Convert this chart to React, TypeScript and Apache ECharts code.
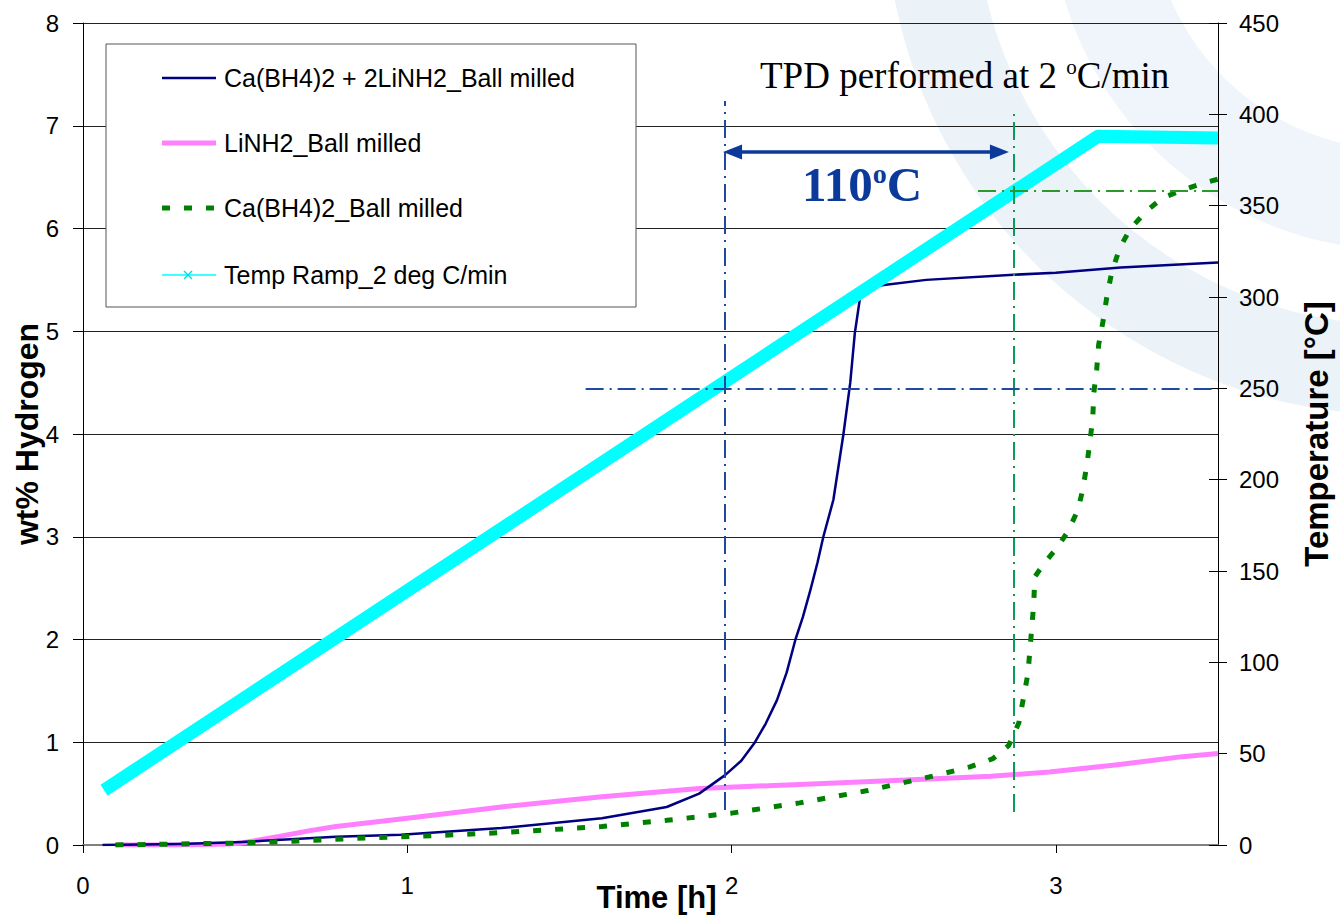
import React, { useEffect, useRef } from "react";
import * as echarts from "echarts";

// ---- Data ----
const xTicks = [0, 1, 2, 3];
const leftTicks = [0, 1, 2, 3, 4, 5, 6, 7, 8];
const rightTicks = [0, 50, 100, 150, 200, 250, 300, 350, 400, 450];

// Ca(BH4)2 + 2LiNH2_Ball milled (wt%)
const blueTime = [0.06, 0.3, 0.49, 0.78, 0.98, 1.29, 1.6, 1.8, 1.9, 1.98, 2.03, 2.07, 2.105, 2.14, 2.17, 2.197, 2.22, 2.243, 2.265, 2.283, 2.314, 2.345, 2.366, 2.38, 2.394, 2.4, 2.47, 2.6, 2.87, 3.0, 3.2, 3.5];
const blueWt = [0, 0.01, 0.03, 0.08, 0.1, 0.165, 0.26, 0.37, 0.5, 0.68, 0.82, 0.99, 1.18, 1.41, 1.68, 2.0, 2.22, 2.48, 2.75, 3.0, 3.36, 4.0, 4.5, 4.98, 5.28, 5.42, 5.45, 5.5, 5.55, 5.57, 5.62, 5.67];

// LiNH2_Ball milled (wt%)
const pinkTime = [0.1, 0.3, 0.45, 0.49, 0.6, 0.7, 0.78, 1.0, 1.29, 1.6, 1.9, 2.21, 2.52, 2.8, 2.98, 3.19, 3.39, 3.5];
const pinkWt = [0, 0, 0.01, 0.02, 0.08, 0.14, 0.18, 0.26, 0.37, 0.47, 0.55, 0.59, 0.63, 0.67, 0.71, 0.78, 0.86, 0.89];

// Ca(BH4)2_Ball milled (wt%)
const greenTime = [0.1, 0.5, 0.67, 0.88, 1.08, 1.29, 1.6, 1.8, 2.0, 2.21, 2.42, 2.62, 2.735, 2.806, 2.855, 2.886, 2.9, 2.914, 2.92, 2.926, 2.932, 2.935, 2.966, 3.003, 3.037, 3.068, 3.083, 3.095, 3.105, 3.114, 3.117, 3.126, 3.132, 3.145, 3.157, 3.172, 3.197, 3.23, 3.283, 3.33, 3.388, 3.452, 3.5];
const greenWt = [0, 0.02, 0.04, 0.07, 0.09, 0.12, 0.18, 0.24, 0.31, 0.41, 0.53, 0.67, 0.76, 0.84, 0.97, 1.19, 1.43, 1.67, 1.9, 2.12, 2.36, 2.61, 2.75, 2.89, 3.05, 3.26, 3.46, 3.69, 3.92, 4.17, 4.4, 4.63, 4.87, 5.09, 5.33, 5.57, 5.81, 6.0, 6.18, 6.3, 6.37, 6.44, 6.48];

// Temp Ramp_2 deg C/min (°C)
const tempTime = [0.065, 3.13, 3.5];
const tempC = [30, 388, 387];

// Annotation lines
const blueMarkTime = 1.98;
const greenMarkTime = 2.87;
const blueMarkTemp = 250;
const greenMarkTemp = 358;

const legendNames = [
  "Ca(BH4)2 + 2LiNH2_Ball milled",
  "LiNH2_Ball milled",
  "Ca(BH4)2_Ball milled",
  "Temp Ramp_2 deg C/min",
];

const pair = (xs: number[], ys: number[]) => xs.map((x, i) => [x, ys[i]]);

export default function App() {
  const ref = useRef<HTMLDivElement>(null);

  useEffect(() => {
    document.body.style.margin = "0";
    const chart = echarts.init(ref.current!, null, { renderer: "svg" });
    const sans = "'Liberation Sans', Arial, sans-serif";
    const serif = "'Liberation Serif', 'Times New Roman', serif";

    const dashDot = [18, 6, 2, 6];
    const blueDD = "#1f4aa0";
    const greenV = "#0a9a5a";
    const greenH = "#2a9a2a";
    const arrowBlue = "#0b3a9a";

    const legendRowsY = [78, 143, 208, 275];
    const lx0 = 162;
    const lx1 = 216;
    const legendGraphics: any[] = [
      {
        type: "rect",
        z: 10,
        shape: { x: 106, y: 44, width: 530, height: 263 },
        style: { fill: "#fff", stroke: "#555", lineWidth: 1 },
      },
      {
        type: "line",
        z: 11,
        shape: { x1: lx0, y1: legendRowsY[0], x2: lx1, y2: legendRowsY[0] },
        style: { stroke: "#000080", lineWidth: 2.5 },
      },
      {
        type: "line",
        z: 11,
        shape: { x1: lx0, y1: legendRowsY[1], x2: lx1, y2: legendRowsY[1] },
        style: { stroke: "#FF80FF", lineWidth: 5 },
      },
      {
        type: "line",
        z: 11,
        shape: { x1: lx0, y1: legendRowsY[2], x2: lx1 + 2, y2: legendRowsY[2] },
        style: { stroke: "#008000", lineWidth: 5, lineDash: [8, 14] },
      },
      {
        type: "line",
        z: 11,
        shape: { x1: lx0, y1: legendRowsY[3], x2: lx1, y2: legendRowsY[3] },
        style: { stroke: "#00FFFF", lineWidth: 1.5 },
      },
      {
        type: "line",
        z: 11,
        shape: { x1: 184, y1: legendRowsY[3] - 4, x2: 192, y2: legendRowsY[3] + 4 },
        style: { stroke: "#00E0E0", lineWidth: 1.5 },
      },
      {
        type: "line",
        z: 11,
        shape: { x1: 184, y1: legendRowsY[3] + 4, x2: 192, y2: legendRowsY[3] - 4 },
        style: { stroke: "#00E0E0", lineWidth: 1.5 },
      },
      ...legendNames.map((n, i) => ({
        type: "text",
        z: 11,
        x: 224,
        y: legendRowsY[i],
        style: {
          text: n,
          fill: "#000",
          font: `25px ${sans}`,
          verticalAlign: "middle",
          align: "left",
        },
      })),
    ];

    const option: any = {
      animation: false,
      backgroundColor: "#fff",
      grid: {
        left: 83,
        right: 122,
        top: 23,
        bottom: 71,
        containLabel: false,
        outerBoundsMode: "none",
      },
      xAxis: {
        type: "value",
        min: 0,
        max: 3.5,
        interval: 1,
        axisLine: { show: true, onZero: false, lineStyle: { color: "#808080", width: 2 } },
        axisTick: { show: true, length: 8, lineStyle: { color: "#000" } },
        axisLabel: {
          margin: 28,
          fontSize: 24,
          color: "#000",
          fontFamily: sans,
          showMaxLabel: false,
          formatter: (v: number) => (xTicks.includes(v) ? String(v) : ""),
        },
        splitLine: { show: false },
        name: "Time [h]",
        nameLocation: "middle",
        nameGap: 37,
        nameMoveOverlap: false,
        nameTextStyle: { fontSize: 31, fontWeight: "bold", color: "#000", fontFamily: sans, padding: [0, 0, 0, 12] },
      },
      yAxis: [
        {
          type: "value",
          position: "left",
          min: 0,
          max: 8,
          interval: 1,
          axisLine: { show: true, lineStyle: { color: "#000", width: 1 } },
          axisTick: { show: true, inside: false, length: 10, lineStyle: { color: "#000" } },
          axisLabel: {
            margin: 24,
            fontSize: 24,
            color: "#000",
            fontFamily: sans,
            formatter: (v: number) => (leftTicks.includes(v) ? String(v) : ""),
          },
          splitLine: { show: true, lineStyle: { color: "#222", width: 1 } },
          name: "wt% Hydrogen",
          nameLocation: "middle",
          nameGap: 40,
          nameMoveOverlap: false,
          nameTextStyle: { fontSize: 32, fontWeight: "bold", color: "#000", fontFamily: sans },
        },
        {
          type: "value",
          position: "right",
          min: 0,
          max: 450,
          interval: 50,
          axisLine: { show: true, lineStyle: { color: "#000", width: 1 } },
          axisTick: { show: true, inside: false, length: 9, lineStyle: { color: "#000" } },
          axisLabel: {
            margin: 21,
            fontSize: 24,
            color: "#000",
            fontFamily: sans,
            formatter: (v: number) => (rightTicks.includes(v) ? String(v) : ""),
          },
          splitLine: { show: false },
          name: "Temperature [°C]",
          nameLocation: "middle",
          nameGap: 82,
          nameMoveOverlap: false,
          nameTextStyle: { fontSize: 33, fontWeight: "bold", color: "#000", fontFamily: sans },
        },
        {
          type: "value",
          position: "right",
          min: 0,
          max: 450,
          interval: 50,
          axisLine: { show: false },
          axisTick: { show: true, inside: true, length: 9, lineStyle: { color: "#000" } },
          axisLabel: { show: false },
          splitLine: { show: false },
        },
      ],
      series: [
        {
          name: legendNames[0],
          type: "line",
          yAxisIndex: 0,
          symbol: "none",
          z: 3,
          data: pair(blueTime, blueWt),
          lineStyle: { color: "#000080", width: 2.5, join: "round" },
        },
        {
          name: legendNames[1],
          type: "line",
          yAxisIndex: 0,
          symbol: "none",
          z: 2,
          data: pair(pinkTime, pinkWt),
          lineStyle: { color: "#FF80FF", width: 5, join: "round" },
        },
        {
          name: legendNames[2],
          type: "line",
          yAxisIndex: 0,
          symbol: "none",
          z: 3,
          data: pair(greenTime, greenWt),
          lineStyle: { color: "#008000", width: 5, type: [8, 14] },
        },
        {
          name: legendNames[3],
          type: "line",
          yAxisIndex: 1,
          symbol: "none",
          z: 4,
          data: pair(tempTime, tempC),
          lineStyle: { color: "#00FFFF", width: 13, cap: "butt", join: "round" },
        },
        {
          name: "refWt",
          type: "line",
          yAxisIndex: 0,
          symbol: "none",
          z: 6,
          data: [],
          markLine: {
            silent: true,
            symbol: ["none", "none"],
            label: { show: false },
            data: [
              [
                { coord: [blueMarkTime, 0.34], lineStyle: { color: blueDD, width: 2, type: dashDot } },
                { coord: [blueMarkTime, 7.24] },
              ],
              [
                { coord: [greenMarkTime, 0.32], lineStyle: { color: greenV, width: 2, type: dashDot } },
                { coord: [greenMarkTime, 7.17] },
              ],
              [
                {
                  coord: [2.003, 6.745],
                  symbol: "triangle",
                  symbolSize: [15, 19],
                  lineStyle: { color: arrowBlue, width: 3.5, type: "solid" },
                  itemStyle: { color: arrowBlue },
                },
                {
                  coord: [2.826, 6.745],
                  symbol: "triangle",
                  symbolSize: [15, 19],
                  itemStyle: { color: arrowBlue },
                },
              ],
            ],
          },
        },
        {
          name: "refTemp",
          type: "line",
          yAxisIndex: 1,
          symbol: "none",
          z: 6,
          data: [],
          markLine: {
            silent: true,
            symbol: ["none", "none"],
            label: { show: false },
            data: [
              [
                { coord: [1.55, blueMarkTemp], lineStyle: { color: blueDD, width: 2, type: dashDot } },
                { coord: [3.5, blueMarkTemp] },
              ],
              [
                { coord: [2.76, greenMarkTemp], lineStyle: { color: greenH, width: 2, type: dashDot } },
                { coord: [3.5, greenMarkTemp] },
              ],
            ],
          },
        },
      ],
      graphic: [
        {
          type: "circle",
          z: -10,
          silent: true,
          shape: { cx: 1400, cy: -100, r: 470 },
          style: { fill: "none", stroke: "#ebf2f8", lineWidth: 90 },
        },
        {
          type: "circle",
          z: -10,
          silent: true,
          shape: { cx: 1400, cy: -100, r: 300 },
          style: { fill: "none", stroke: "#eff5fa", lineWidth: 100 },
        },
        ...legendGraphics,
        {
          type: "text",
          z: 12,
          x: 760,
          y: 75,
          style: {
            text: "{a|TPD performed at 2 }{s|o}{a|C/min}",
            verticalAlign: "middle",
            align: "left",
            rich: {
              a: { fontSize: 37, fontFamily: serif, fill: "#000" },
              s: { fontSize: 21, fontFamily: serif, fill: "#000", verticalAlign: "top" },
            },
          },
        },
        {
          type: "text",
          z: 12,
          x: 802,
          y: 184,
          style: {
            text: "{a|110}{s|o}{a|C}",
            verticalAlign: "middle",
            align: "left",
            rich: {
              a: { fontSize: 49, fontWeight: "bold", fontFamily: serif, fill: arrowBlue },
              s: { fontSize: 28, fontWeight: "bold", fontFamily: serif, fill: arrowBlue, verticalAlign: "top" },
            },
          },
        },
      ],
    };

    chart.setOption(option);
    return () => chart.dispose();
  }, []);

  return (
    <div
      ref={ref}
      style={{ position: "fixed", left: 0, top: 0, width: 1340, height: 916, background: "#fff" }}
    />
  );
}
